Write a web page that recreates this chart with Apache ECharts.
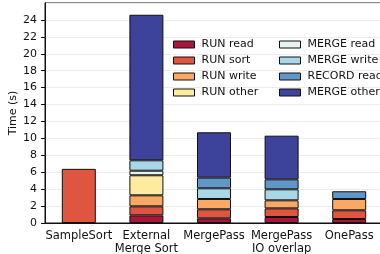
<!DOCTYPE html>
<html>
<head>
<meta charset="utf-8">
<script src="https://cdn.jsdelivr.net/npm/echarts@6/dist/echarts.min.js"></script>
<style>
  html, body { margin: 0; padding: 0; background: #fff; }
  #chart { width: 380px; height: 254px; }
</style>
</head>
<body>
<div id="chart"></div>
<script>
// categories on the x axis
const categories = ['SampleSort', 'External\nMerge Sort', 'MergePass', 'MergePass\nIO overlap', 'OnePass'];

// stacked segments, bottom to top (seconds)
const runRead     = [0,   0.90, 0.55, 0.71, 0.47];
const runSort     = [6.4, 1.07, 1.07, 1.02, 1.03];
const runWrite    = [0,   1.30, 1.22, 0.95, 1.34];
const runOther    = [0,   2.37, 0,    0,    0];
const mergeRead   = [0,   0.54, 0,    0,    0];
const mergeWrite  = [0,   1.23, 1.26, 1.30, 0];
const recordRead  = [0,   0,    1.26, 1.18, 0.91];
const mergeOther  = [0,   17.2, 5.36, 5.16, 0];

const seriesNames = ['RUN read', 'RUN sort', 'RUN write', 'RUN other',
                     'MERGE read', 'MERGE write', 'RECORD read', 'MERGE other'];
const seriesData = [runRead, runSort, runWrite, runOther, mergeRead, mergeWrite, recordRead, mergeOther];
const colors = ['#a8163b', '#e05540', '#fca865', '#feeba0', '#e8f5ee', '#a8d8e8', '#6197c8', '#3d429b'];

const font = 'DejaVu Sans';

const chart = echarts.init(document.getElementById('chart'));

const series = seriesNames.map((name, i) => ({
  name: name,
  type: 'bar',
  stack: 'total',
  barWidth: 34,
  itemStyle: { color: colors[i], borderColor: '#111', borderWidth: 1 },
  data: seriesData[i].map(v => (v === 0 ? '-' : v))
}));

const legendCommon = {
  orient: 'vertical',
  itemWidth: 21,
  itemHeight: 7,
  itemGap: 3,
  icon: 'rect',
  itemStyle: { borderColor: '#111', borderWidth: 1 },
  textStyle: { fontFamily: font, fontSize: 11, color: '#111', lineHeight: 13, padding: [0, 0, 0, 2] },
  padding: 0
};

chart.setOption({
  animation: false,
  color: colors,
  textStyle: { fontFamily: font },
  grid: {
    left: 45, top: 3, bottom: 31, width: 338,
    outerBoundsMode: 'none', containLabel: false,
    show: true, borderColor: '#111', borderWidth: 1
  },
  legend: [
    Object.assign({ left: 173, top: 38, data: seriesNames.slice(0, 4) }, legendCommon),
    Object.assign({ left: 279, top: 38, data: seriesNames.slice(4) }, legendCommon)
  ],
  xAxis: {
    type: 'category',
    data: categories,
    axisLine: { lineStyle: { color: '#111', width: 1 } },
    axisTick: { alignWithLabel: true, length: 4, lineStyle: { color: '#111' } },
    axisLabel: { fontFamily: font, fontSize: 11.5, color: '#111', margin: 7, lineHeight: 13, interval: 0 }
  },
  yAxis: {
    type: 'value',
    min: 0,
    max: 26,
    interval: 2,
    name: 'Time (s)',
    nameLocation: 'middle',
    nameGap: 26,
    nameMoveOverlap: false,
    nameTextStyle: { fontFamily: font, fontSize: 11, color: '#111' },
    axisLine: { show: true, lineStyle: { color: '#111', width: 1 } },
    axisTick: { show: true, length: 4, lineStyle: { color: '#111' } },
    axisLabel: { fontFamily: font, fontSize: 11, color: '#111', margin: 8, showMaxLabel: false },
    splitLine: { show: true, lineStyle: { color: '#ececec', width: 1 } }
  },
  series: series
});
</script>
</body>
</html>
